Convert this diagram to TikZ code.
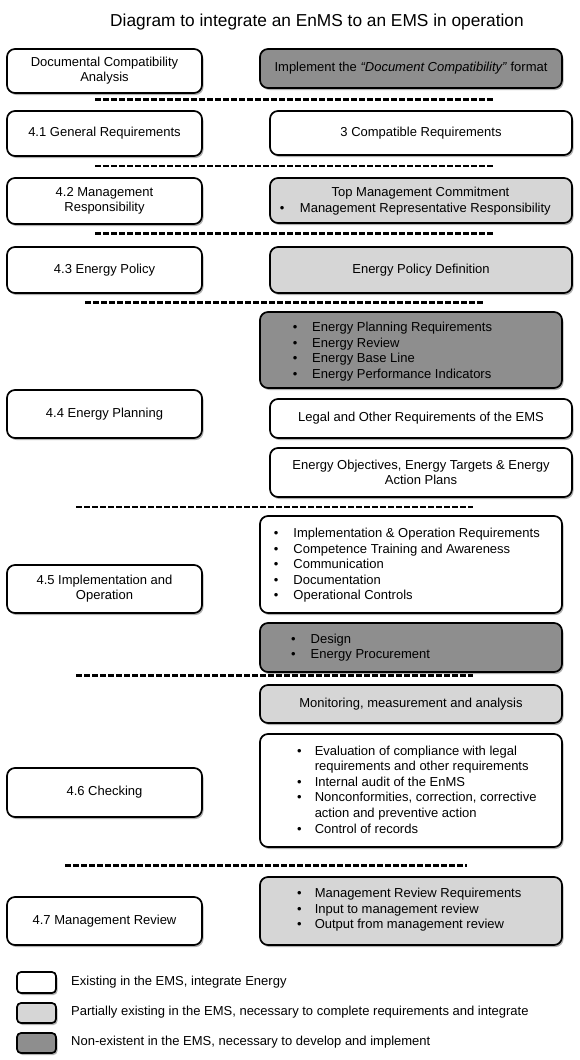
\documentclass[tikz,border=0pt]{standalone}
\usepackage{fontspec}
\setmainfont{Liberation Sans}
\usetikzlibrary{shadows}
\newcommand\fsz{\fontsize{13}{14.8}\selectfont}
\newcommand\fsl{\fontsize{13}{15.6}\selectfont}
\newcommand\blist[2]{\begin{tabular}{@{}l@{\hspace{#1pt}}l@{}}#2\end{tabular}}
\definecolor{lightfill}{HTML}{D6D6D6}
\definecolor{darkfill}{HTML}{8E8E8E}
\begin{document}
\begin{tikzpicture}[x=1pt,y=-1pt,
  box/.style={draw=black, line width=1.7pt, rounded corners=8pt, inner sep=0pt,
    align=center, font=\fsz, fill=white,
    drop shadow={shadow xshift=1.5pt, shadow yshift=-2pt, opacity=0.3, fill=black}},
  lbox/.style={box, minimum width=195pt},
  rboxa/.style={box, minimum width=302pt},
  rboxb/.style={box, minimum width=302pt},
  light/.style={fill=lightfill},
  dark/.style={fill=darkfill},
  lst/.style={inner sep=0pt, anchor=west, font=\fsl},
  txt/.style={inner sep=0pt, font=\fsz},
  sep/.style={line width=2.4pt, dash pattern=on 5.5pt off 2.5pt},
  legbox/.style={draw=black, line width=1.7pt, rounded corners=4pt, inner sep=0pt,
    minimum width=39pt, minimum height=20pt,
    drop shadow={shadow xshift=1.5pt, shadow yshift=-2pt, opacity=0.3, fill=black}},
  legtxt/.style={inner sep=0pt, anchor=west, font=\fsz}]
\useasboundingbox (0,0) rectangle (579,1060);
\fill[white] (0,0) rectangle (579,1060);

% title
\node[inner sep=0pt, font=\fontsize{17.3}{20}\selectfont] (title) at (317,22) {Diagram to integrate an EnMS to an EMS in operation};

% left column
\node[lbox, minimum height=44pt] (doc) at (104.5,71) {Documental Compatibility\\Analysis};
\node[lbox, minimum height=45pt] (g41) at (104.5,133.5) {4.1 General Requirements};
\node[lbox, minimum height=46pt] (g42) at (104.5,201) {4.2 Management\\Responsibility};
\node[lbox, minimum height=46pt] (g43) at (104.5,270) {4.3 Energy Policy};
\node[lbox, minimum height=48pt] (g44) at (104.5,414) {4.4 Energy Planning};
\node[lbox, minimum height=48pt] (g45) at (104.5,589) {4.5 Implementation and\\Operation};
\node[lbox, minimum height=49pt] (g46) at (104.5,792.5) {4.6 Checking};
\node[lbox, minimum height=48pt] (g47) at (104.5,921) {4.7 Management Review};

% right column
\node[rboxa, dark, minimum height=39pt] (impl) at (411,68.5) {Implement the \textit{“Document Compatibility”} format};
\node[rboxb, minimum height=44pt] (compat) at (421,133) {3 Compatible Requirements};
\node[rboxb, light, minimum height=45pt] (topm) at (421,200.5) {};
\node[txt] (topmt) at (420.5,193.3) {Top Management Commitment};
\node[lst] (topml) at (279.7,209.3) {\blist{15.5}{\textbullet & Management Representative Responsibility}};
\node[rboxb, light, minimum height=46pt] (epol) at (421,270) {Energy Policy Definition};

\node[rboxa, dark, minimum height=76pt] (eplan) at (411,350) {};
\node[lst] (eplanl) at (292.7,352) {\blist{14.7}{\textbullet & Energy Planning Requirements\\
  \textbullet & Energy Review\\ \textbullet & Energy Base Line\\ \textbullet & Energy Performance Indicators}};
\node[rboxb, minimum height=39pt] (legal) at (421,418.5) {Legal and Other Requirements of the EMS};
\node[rboxb, minimum height=49pt] (objec) at (421,472.5) {Energy Objectives, Energy Targets \& Energy\\Action Plans};

\node[rboxa, minimum height=97pt] (implop) at (411,564.5) {};
\node[lst] (implopl) at (273.7,565.5) {\blist{15}{\textbullet & Implementation \& Operation Requirements\\
  \textbullet & Competence Training and Awareness\\ \textbullet & Communication\\
  \textbullet & Documentation\\ \textbullet & Operational Controls}};
\node[rboxa, dark, minimum height=49pt] (design) at (411,647.5) {};
\node[lst] (designl) at (291,648) {\blist{15}{\textbullet & Design\\ \textbullet & Energy Procurement}};

\node[rboxa, light, minimum height=38pt] (monit) at (411,704) {Monitoring, measurement and analysis};
\node[rboxa, minimum height=113pt] (evalu) at (411,790.5) {};
\node[lst] (evalul) at (297,791) {\blist{13}{\textbullet & Evaluation of compliance with legal\\
  & requirements and other requirements\\ \textbullet & Internal audit of the EnMS\\
  \textbullet & Nonconformities, correction, corrective\\ & action and preventive action\\
  \textbullet & Control of records}};
\node[rboxa, light, minimum height=68pt] (mrev) at (411,911) {};
\node[lst] (mrevl) at (297,910) {\blist{13}{\textbullet & Management Review Requirements\\
  \textbullet & Input to management review\\ \textbullet & Output from management review}};

% dashed separators
\coordinate (s1a) at (95,99.5);  \coordinate (s1b) at (493,99.5);
\coordinate (s2a) at (95,166);   \coordinate (s2b) at (493,166);
\coordinate (s3a) at (95,233.5); \coordinate (s3b) at (493,233.5);
\coordinate (s4a) at (85,302.5); \coordinate (s4b) at (483,302.5);
\coordinate (s5a) at (76,507);   \coordinate (s5b) at (473,507);
\coordinate (s6a) at (76,675.5); \coordinate (s6b) at (473,675.5);
\coordinate (s7a) at (65,865.5); \coordinate (s7b) at (467,865.5);
\foreach \i in {1,...,7} { \draw[sep] (s\i a) -- (s\i b); }

% legend
\node[legbox, fill=white, minimum height=21pt] (legw) at (36.5,982.5) {};
\node[legbox, light] (legl) at (36.5,1013) {};
\node[legbox, dark] (legd) at (36.5,1043) {};
\node[legtxt] (legwt) at (71,982.5) {Existing in the EMS, integrate Energy};
\node[legtxt] (leglt) at (71,1012.5) {Partially existing in the EMS, necessary to complete requirements and integrate};
\node[legtxt] (legdt) at (71,1042) {Non-existent in the EMS, necessary to develop and implement};
\end{tikzpicture}
\end{document}
